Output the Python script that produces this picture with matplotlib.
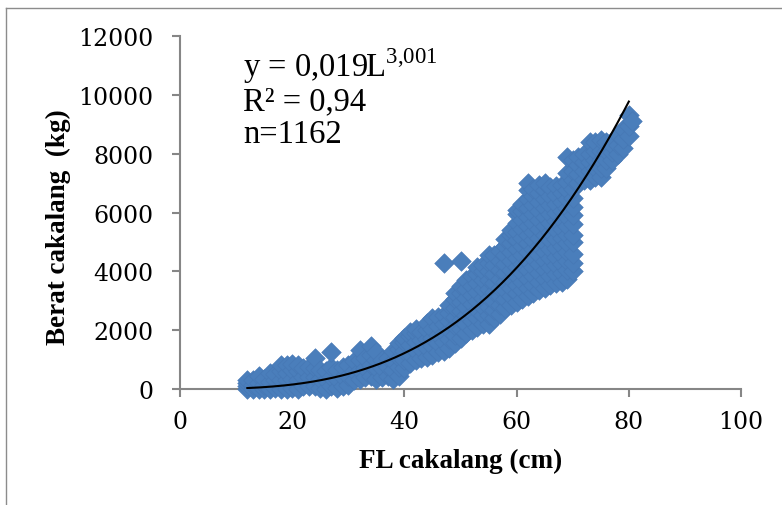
import numpy as np
import matplotlib
matplotlib.use("Agg")
import matplotlib.pyplot as plt
from matplotlib.lines import Line2D

plt.rcParams['font.family'] = ['Liberation Serif', 'DejaVu Serif']
plt.rcParams['mathtext.fontset'] = 'custom'
plt.rcParams['mathtext.rm'] = 'Liberation Serif'

# panjang (FL, cm) per kolom dan berat (kg) yang terbaca di kolom itu
fl_cm = [12, 13, 14, 15, 16, 17, 18, 19, 20, 21, 22, 23, 24, 25, 26, 27, 28, 29, 30,
         31, 32, 33, 34, 35, 36, 37, 38, 39, 40, 41, 42, 43, 44, 45, 46, 47, 48, 49,
         50, 51, 52, 53, 54, 55, 56, 57, 58, 59, 60, 61, 62, 63, 64, 65, 66, 67, 68,
         69, 70, 71, 72, 73, 74, 75, 76, 77, 78, 79, 80, 80.5]
berat_kg = [
    [0, 100, 200, 300],
    [0, 150, 300],
    [0, 200, 450],
    [0, 150, 350],
    [0, 250, 550],
    [50, 300, 500],
    [0, 300, 600, 820],
    [0, 300, 550, 800],
    [50, 350, 650, 850],
    [0, 300, 600, 800],
    [100, 400, 700],
    [100, 400, 750],
    [100, 400, 700, 1050],
    [50, 350, 650],
    [0, 300, 600],
    [100, 400, 750, 1250],
    [50, 350, 650],
    [100, 400, 750],
    [150, 450, 800],
    [300, 600, 950],
    [350, 650, 1000, 1330],
    [400, 700, 1050],
    [450, 800, 1150, 1460],
    [350, 700, 1000, 1250],
    [400, 700, 1000],
    [450, 750, 1050],
    [350, 650, 950, 1300],
    [450, 750, 1050, 1350, 1550],
    [700, 1000, 1300, 1600, 1750],
    [900, 1200, 1500, 1800, 1950],
    [1000, 1300, 1600, 1900, 2050],
    [1050, 1350, 1650, 1950],
    [1100, 1400, 1700, 2000, 2250],
    [1150, 1450, 1750, 2050, 2400],
    [1250, 1550, 1850, 2150, 2450],
    [1300, 1600, 1900, 2200, 2500, 4280],
    [1400, 1700, 2000, 2300, 2600, 2850],
    [1550, 1850, 2150, 2450, 2750, 3050, 3250],
    [1750, 2050, 2350, 2650, 2950, 3250, 3500, 4360],
    [1900, 2200, 2500, 2800, 3100, 3400, 3700],
    [2000, 2300, 2600, 2900, 3200, 3500, 3850],
    [2100, 2400, 2700, 3000, 3300, 3600, 3900, 4150],
    [2200, 2500, 2800, 3100, 3400, 3700, 4000, 4200],
    [2200, 2500, 2800, 3100, 3400, 3700, 4000, 4300, 4550],
    [2400, 2700, 3000, 3300, 3600, 3900, 4200, 4550],
    [2550, 2850, 3150, 3450, 3750, 4050, 4350, 4700],
    [2750, 3050, 3350, 3650, 3950, 4250, 4550, 4850, 5100],
    [2850, 3150, 3450, 3750, 4050, 4350, 4650, 4950, 5250, 5400],
    [2950, 3250, 3550, 3850, 4150, 4450, 4750, 5050, 5350, 5650, 5950, 6100],
    [3050, 3350, 3650, 3950, 4250, 4550, 4850, 5150, 5450, 5750, 6050, 6300],
    [3150, 3450, 3750, 4050, 4350, 4650, 4950, 5250, 5550, 5850, 6150, 6450, 6750, 7000],
    [3250, 3550, 3850, 4150, 4450, 4750, 5050, 5350, 5650, 5950, 6250, 6550, 6800],
    [3350, 3650, 3950, 4250, 4550, 4850, 5150, 5450, 5750, 6050, 6350, 6650, 6950],
    [3450, 3750, 4050, 4350, 4650, 4950, 5250, 5550, 5850, 6150, 6450, 6750, 7000],
    [3550, 3850, 4150, 4450, 4750, 5050, 5350, 5650, 5950, 6250, 6550, 6850],
    [3600, 3900, 4200, 4500, 4800, 5100, 5400, 5700, 6000, 6300, 6600, 6900],
    [3650, 3950, 4250, 4550, 4850, 5150, 5450, 5750, 6050, 6350, 6650, 6950],
    [3750, 4050, 4350, 4650, 4950, 5250, 5550, 5850, 6150, 6450, 6750, 7050, 7350, 7900],
    [4000, 4300, 4600, 5000, 5250, 5600, 5900, 6200, 6500, 6800, 7100, 7400, 7800],
    [7000, 7300, 7600, 7900],
    [7100, 7400, 7700, 8000],
    [7100, 7400, 7700, 8000, 8400],
    [7200, 7500, 7800, 8100, 8400],
    [7200, 7500, 7800, 8100, 8450],
    [7500, 7800, 8100, 8400],
    [7800, 8050, 8300],
    [8000, 8300, 8650],
    [8200, 8500, 8850],
    [8600, 8950, 9300],
    [9100],
]

# koefisien regresi W = a * L^b
a_coef = 0.019
b_coef = 3.001
fl_min, fl_max = 12, 80

x_pts = []
y_pts = []
for fl, ws in zip(fl_cm, berat_kg):
    for w in ws:
        x_pts.append(fl)
        y_pts.append(w)

fig = plt.figure(figsize=(7.82, 5.06), dpi=100)
ax = fig.add_axes([0.2302, 0.2292, 0.7174, 0.6977])

ax.scatter(x_pts, y_pts, marker='D', s=100, color='#4a7ebb',
           edgecolors='#4577b4', linewidths=0.4, clip_on=False, zorder=3)

L = np.linspace(fl_min, fl_max, 200)
ax.plot(L, a_coef * L ** b_coef, color='black', lw=1.5, zorder=4)

ax.set_xlim(0, 100)
ax.set_ylim(0, 12000)
ax.set_xticks([0, 20, 40, 60, 80, 100])
ax.set_yticks([0, 2000, 4000, 6000, 8000, 10000, 12000])

for s in ['top', 'right']:
    ax.spines[s].set_visible(False)
for s in ['left', 'bottom']:
    ax.spines[s].set_color('#868686')
    ax.spines[s].set_linewidth(1.5)
ax.tick_params(axis='both', direction='out', length=6, width=1.5, color='#868686')
ax.tick_params(axis='y', pad=13)
ax.tick_params(axis='x', pad=9)
for lab in ax.get_xticklabels() + ax.get_yticklabels():
    lab.set_fontfamily('DejaVu Serif')
    lab.set_fontsize(17)

ax.set_xlabel('FL cakalang (cm)', fontsize=19.5, fontweight='bold', labelpad=11)
ax.set_ylabel('Berat cakalang  (kg)', fontsize=19.5, fontweight='bold', labelpad=5)
ax.yaxis.label.set_y(0.462)

ax.text(0.112, 0.887, r'y = 0,019L$^{3{,}001}$', transform=ax.transAxes,
        fontsize=23.5, va='baseline', ha='left')
ax.text(0.112, 0.793, 'R² = 0,94', transform=ax.transAxes,
        fontsize=23.5, va='baseline', ha='left')
ax.text(0.112, 0.700, 'n=1162', transform=ax.transAxes,
        fontsize=23.5, va='baseline', ha='left')

# bingkai luar
fx = 6 / 782
fy = 1 - 9 / 506
fig.add_artist(Line2D([fx, fx], [0, fy], color='#8c8c8c', lw=1))
fig.add_artist(Line2D([fx, 1], [fy, fy], color='#8c8c8c', lw=1))

fig.savefig('out.png', dpi=100)
